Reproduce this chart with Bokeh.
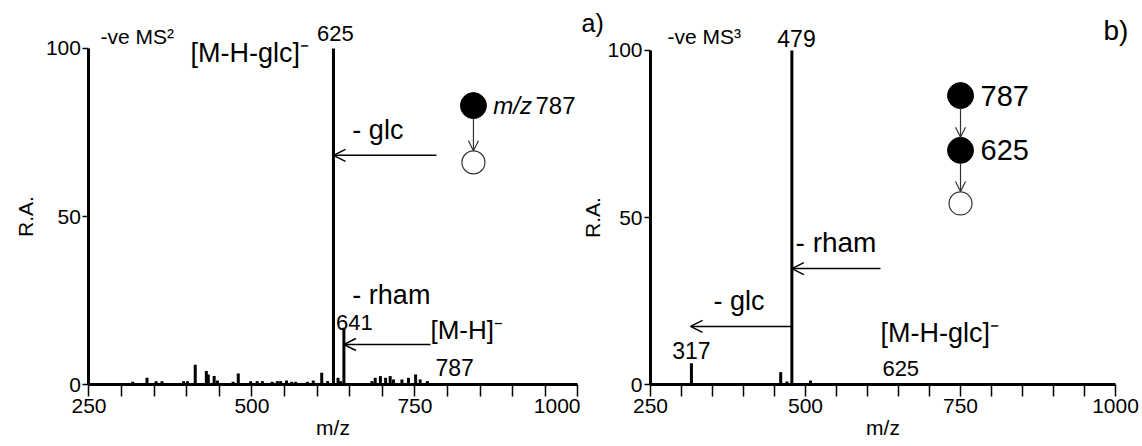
from bokeh.plotting import figure
from bokeh.layouts import row
from bokeh.models import Range1d, FixedTicker, Arrow, OpenHead
from bokeh.embed import file_html
from bokeh.resources import INLINE
from bokeh.core.properties import value

FONT = "Liberation Sans"

# ---- data: panel a) -ve MS2 of m/z 787 ----
ms2_mz = [297, 317, 339, 353, 362, 395, 401, 413, 430, 433, 442, 447, 471, 479, 498,
          508, 516, 531, 539, 544, 553, 561, 567, 585, 594, 607, 616, 625, 632, 636,
          641, 684, 689, 697, 705, 712, 717, 730, 740, 751, 758, 769]
ms2_ra = [0.3, 0.8, 2.0, 1.0, 1.0, 1.0, 1.0, 5.9, 4.0, 3.0, 2.5, 1.2, 0.8, 3.3, 1.0,
          1.0, 1.0, 0.8, 1.0, 1.0, 1.2, 0.8, 0.8, 0.8, 1.2, 3.5, 1.0, 100, 2.0, 1.0,
          16.9, 1.0, 2.0, 2.5, 2.0, 2.5, 1.5, 1.5, 2.0, 3.0, 1.5, 1.0]

# ---- data: panel b) -ve MS3 787 -> 625 ----
ms3_mz = [316, 460, 470, 478, 508]
ms3_ra = [6.4, 3.7, 0.9, 100, 1.2]

x_major_ticks = [250, 500, 750, 1000]
x_minor_ticks = [300, 350, 400, 450, 550, 600, 650, 700, 800, 850, 900, 950]
y_ticks = [0, 50, 100]


def make_panel(width, x_start, x_end, y_start, y_end, ylab_standoff=5):
    p = figure(width=width, height=446, output_backend="svg", toolbar_location=None,
               x_range=Range1d(x_start, x_end), y_range=Range1d(y_start, y_end),
               min_border_left=0, min_border_right=0,
               min_border_top=2, min_border_bottom=0,
               x_axis_label="m/z", y_axis_label="R.A.")
    p.outline_line_color = None
    p.grid.visible = False
    p.background_fill_color = "white"
    p.border_fill_color = "white"

    xa = p.xaxis[0]
    xa.ticker = FixedTicker(ticks=x_major_ticks, minor_ticks=x_minor_ticks)
    xa.bounds = (250, 1000)
    xa.fixed_location = 0
    xa.axis_line_width = 3
    xa.axis_line_color = "black"
    xa.major_tick_out = 12
    xa.major_tick_in = 0
    xa.minor_tick_out = 12
    xa.minor_tick_in = 0
    xa.major_tick_line_width = 1.5
    xa.minor_tick_line_width = 1.5
    xa.major_tick_line_color = "black"
    xa.minor_tick_line_color = "black"
    xa.major_label_standoff = 2
    xa.major_label_text_font = FONT
    xa.major_label_text_font_size = "21px"
    xa.major_label_text_color = "black"
    xa.axis_label_text_font = FONT
    xa.axis_label_text_font_size = "21px"
    xa.axis_label_text_font_style = "normal"
    xa.axis_label_text_color = "black"
    xa.axis_label_standoff = 0

    ya = p.yaxis[0]
    ya.ticker = FixedTicker(ticks=y_ticks, minor_ticks=[])
    ya.bounds = (0, 100)
    ya.fixed_location = 250
    ya.axis_line_width = 3
    ya.axis_line_color = "black"
    ya.major_tick_out = 6
    ya.major_tick_in = 0
    ya.major_tick_line_width = 1.5
    ya.major_tick_line_color = "black"
    ya.minor_tick_out = 0
    ya.minor_tick_in = 0
    ya.major_label_standoff = 2
    ya.major_label_text_font = FONT
    ya.major_label_text_font_size = "21px"
    ya.major_label_text_color = "black"
    ya.axis_label_text_font = FONT
    ya.axis_label_text_font_size = "21px"
    ya.axis_label_text_font_style = "normal"
    ya.axis_label_text_color = "black"
    ya.axis_label_standoff = ylab_standoff
    return p


def txt(p, x, y, s, size="22px", align="left", style="normal"):
    p.text(x=[x], y=[y], text=[s], text_font=value(FONT), text_font_size=size,
           text_align=align, text_baseline="middle", text_color="black",
           text_font_style=style)


def arrow(p, x0, y0, x1, y1, lw=1.5, size=12, color="black"):
    p.add_layout(Arrow(end=OpenHead(size=size, line_width=lw, line_color=color),
                       x_start=x0, y_start=y0, x_end=x1, y_end=y1,
                       line_width=lw, line_color=color))


# ---------------- panel a ----------------
pa = make_panel(580, 114.3, 1003.9, -18.45, 113.69, ylab_standoff=5)
pa.segment(x0=ms2_mz, y0=[0] * len(ms2_mz), x1=ms2_mz, y1=ms2_ra,
           line_color="black", line_width=3, line_cap="butt")
txt(pa, 267.6, 103.6, "-ve MS\u00b2", size="21px")
txt(pa, 405.7, 98.8, "[M-H-glc]\u207b", size="27px")
txt(pa, 628, 104.5, "625", size="22px", align="center")
txt(pa, 654, 75.6, "- glc", size="27px")
arrow(pa, 783, 68.2, 625, 68.2)
txt(pa, 654, 26.5, "- rham", size="27px")
txt(pa, 657, 18.5, "641", size="22px", align="center")
txt(pa, 773.8, 16.1, "[M-H]\u207b", size="26px")
arrow(pa, 773.8, 11.9, 641, 11.9)
txt(pa, 781.5, 5.1, "787", size="23px")
# precursor scheme
pa.scatter(x=[839.7], y=[83], size=26, marker="circle", fill_color="black", line_color="black")
pa.scatter(x=[839.7], y=[66.1], size=23, marker="circle", fill_color="white",
           line_color="#333333", line_width=1.2)
arrow(pa, 839.7, 79.2, 839.7, 69.6, lw=1.2, size=10, color="#333333")
txt(pa, 870.2, 83, "m/z", size="24px", style="italic")
txt(pa, 934.8, 83, "787", size="24px")

# ---------------- panel b ----------------
pb = make_panel(562, 137.1, 1043.5, -18.56, 114.37, ylab_standoff=0)
pb.segment(x0=ms3_mz, y0=[0] * len(ms3_mz), x1=ms3_mz, y1=ms3_ra,
           line_color="black", line_width=3, line_cap="butt")
txt(pb, 277.4, 104.2, "-ve MS\u00b3", size="21px")
txt(pb, 485.5, 103.6, "479", size="23px", align="center")
txt(pb, 483.9, 42.5, "- rham", size="28px")
arrow(pb, 621, 34.7, 478, 34.7)
txt(pb, 351.6, 25.1, "- glc", size="27px")
arrow(pb, 478, 17.4, 314.5, 17.4)
txt(pb, 316, 10.2, "317", size="23px", align="center")
txt(pb, 621, 15.3, "[M-H-glc]\u207b", size="27px")
txt(pb, 624, 4.8, "625", size="22px")
txt(pb, 980.6, 106, "b)", size="28px")
pb.scatter(x=[750, 750], y=[86.5, 70.1], size=26, marker="circle",
           fill_color="black", line_color="black")
pb.scatter(x=[750], y=[54.2], size=23, marker="circle", fill_color="white",
           line_color="#333333", line_width=1.2)
arrow(pb, 750, 82.6, 750, 74.0, lw=1.2, size=10, color="#333333")
arrow(pb, 750, 66.2, 750, 57.8, lw=1.2, size=10, color="#333333")
txt(pb, 782.3, 86.5, "787", size="29px")
txt(pb, 782.3, 70.1, "625", size="29px")
# panel a) tag sits in the gap left of panel b's axis
txt(pb, 138.7, 108.1, "a)", size="25px")

layout = row(pa, pb, spacing=0)
open("out.html", "w").write(file_html(layout, INLINE))
